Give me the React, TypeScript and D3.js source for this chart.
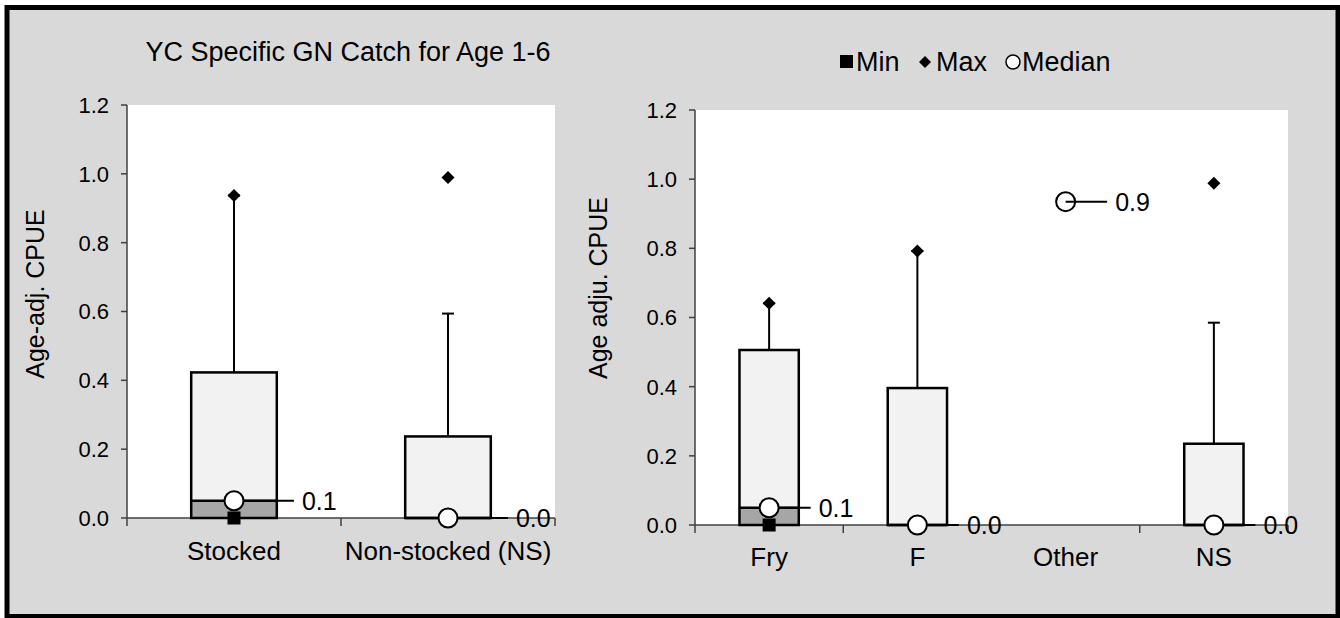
import React from 'react';
import * as d3 from 'd3';

// left panel: stocked vs non-stocked
const leftCats = ['Stocked', 'Non-stocked (NS)'];
const leftMin = [0, 0];
const leftQ1 = [0, 0];
const leftMedian = [0.05, 0];
const leftQ3 = [0.423, 0.237];
const leftWhisker = [0.937, 0.594];
const leftMax = [0.937, 0.989];
const leftLabels = ['0.1', '0.0'];

// right panel: by stocking type
const rightCats = ['Fry', 'F', 'Other', 'NS'];
const rightMin = [0, 0, null, 0];
const rightQ1 = [0, 0, null, 0];
const rightMedian = [0.05, 0, 0.935, 0];
const rightQ3 = [0.506, 0.396, null, 0.235];
const rightWhisker = [0.641, 0.792, null, 0.585];
const rightMax = [0.641, 0.792, null, 0.988];
const rightLabels = ['0.1', '0.0', '0.9', '0.0'];

const yTicks = [0, 0.2, 0.4, 0.6, 0.8, 1.0, 1.2];

const FONT = 'Liberation Sans, Arial, sans-serif';

type PanelProps = {
  x0: number; x1: number; y0: number; y1: number;
  cats: string[]; mins: (number | null)[]; q1: (number | null)[];
  med: (number | null)[]; q3: (number | null)[]; whisk: (number | null)[];
  maxs: (number | null)[]; labels: string[];
  yTitle: string; yTitleX: number; yTitleY: number; catY: number;
};

const diamond = (cx: number, cy: number, r: number) =>
  `M${cx},${cy - r}L${cx + r},${cy}L${cx},${cy + r}L${cx - r},${cy}Z`;

const Panel = (p: PanelProps) => {
  const x = d3.scaleBand().domain(p.cats).range([p.x0, p.x1]).padding(0);
  const y = d3.scaleLinear().domain([0, 1.2]).range([p.y1, p.y0]);
  const bw = x.bandwidth();
  const boxW = bw * 0.4;
  const fmt = d3.format('.1f');
  const axisCol = '#404040';

  return (
    <g>
      <rect x={p.x0} y={p.y0} width={p.x1 - p.x0} height={p.y1 - p.y0} fill="#fff" />
      {/* y axis */}
      <line x1={p.x0} x2={p.x0} y1={p.y0} y2={p.y1} stroke={axisCol} strokeWidth={1.5} />
      {yTicks.map(t => (
        <g key={t}>
          <line x1={p.x0 - 6} x2={p.x0} y1={y(t)} y2={y(t)} stroke={axisCol} strokeWidth={1.5} />
          <text x={p.x0 - 18} y={y(t)} dy="0.36em" textAnchor="end" fontSize={22} fontFamily={FONT}>{fmt(t)}</text>
        </g>
      ))}
      <text transform={`translate(${p.yTitleX},${p.yTitleY}) rotate(-90)`} textAnchor="middle" fontSize={25} fontFamily={FONT}>{p.yTitle}</text>
      {/* x axis */}
      <line x1={p.x0} x2={p.x1} y1={p.y1} y2={p.y1} stroke={axisCol} strokeWidth={1.5} />
      {[...p.cats.map(c => x(c)!), p.x1].map((t, i) => (
        <line key={i} x1={t} x2={t} y1={p.y1} y2={p.y1 + 8} stroke={axisCol} strokeWidth={1.5} />
      ))}
      {p.cats.map(c => (
        <text key={c} x={x(c)! + bw / 2} y={p.catY} textAnchor="middle" fontSize={26} fontFamily={FONT}>{c}</text>
      ))}
      {p.cats.map((c, i) => {
        const cx = x(c)! + bw / 2;
        const hasBox = p.q3[i] != null;
        const m = p.med[i];
        const lineEnd = cx + bw * 0.28;
        return (
          <g key={c}>
            {hasBox && p.whisk[i] != null && (
              <g>
                <line x1={cx} x2={cx} y1={y(p.q3[i]!)} y2={y(p.whisk[i]!)} stroke="#000" strokeWidth={2} />
                <line x1={cx - 6} x2={cx + 6} y1={y(p.whisk[i]!)} y2={y(p.whisk[i]!)} stroke="#000" strokeWidth={2} />
              </g>
            )}
            {hasBox && (
              <g>
                <rect x={cx - boxW / 2} y={y(m!)} width={boxW} height={y(p.q1[i]!) - y(m!)} fill="#a6a6a6" />
                <rect x={cx - boxW / 2} y={y(p.q3[i]!)} width={boxW} height={y(m!) - y(p.q3[i]!)} fill="#f2f2f2" />
                <rect x={cx - boxW / 2} y={y(p.q3[i]!)} width={boxW} height={y(p.q1[i]!) - y(p.q3[i]!)} fill="none" stroke="#000" strokeWidth={2.5} />
                <line x1={cx - boxW / 2} x2={cx + boxW / 2} y1={y(m!)} y2={y(m!)} stroke="#000" strokeWidth={2.5} />
              </g>
            )}
            {p.mins[i] != null && (
              <rect x={cx - 6.5} y={y(p.mins[i]!) - 6.5} width={13} height={13} fill="#000" />
            )}
            {p.maxs[i] != null && (
              <path d={diamond(cx, y(p.maxs[i]!), 6.5)} fill="#000" />
            )}
            {m != null && (
              <g>
                <line x1={cx} x2={lineEnd} y1={y(m)} y2={y(m)} stroke="#000" strokeWidth={2} />
                <circle cx={cx} cy={y(m)} r={9.5} fill={hasBox ? '#fff' : 'none'} stroke="#000" strokeWidth={2} />
                <text x={lineEnd + 8} y={y(m)} dy="0.36em" fontSize={25} fontFamily={FONT}>{p.labels[i]}</text>
              </g>
            )}
          </g>
        );
      })}
    </g>
  );
};

export default function App() {
  return (
    <svg width={1340} height={618} style={{position: 'absolute', left: 0, top: 0}}>
      <rect x={7} y={7.5} width={1331} height={609} fill="#d9d9d9" stroke="#000" strokeWidth={5} />
      <text x={348} y={61} textAnchor="middle" fontSize={27} fontFamily={FONT}>YC Specific GN Catch for Age 1-6</text>
      <Panel x0={127} x1={555} y0={105} y1={518}
        cats={leftCats} mins={leftMin} q1={leftQ1} med={leftMedian} q3={leftQ3}
        whisk={leftWhisker} maxs={leftMax} labels={leftLabels}
        yTitle="Age-adj. CPUE" yTitleX={44} yTitleY={294} catY={560} />
      <Panel x0={695} x1={1288} y0={110} y1={525}
        cats={rightCats} mins={rightMin} q1={rightQ1} med={rightMedian} q3={rightQ3}
        whisk={rightWhisker} maxs={rightMax} labels={rightLabels}
        yTitle="Age adju. CPUE" yTitleX={607} yTitleY={288} catY={566} />
      {/* legend */}
      <g fontFamily={FONT} fontSize={27}>
        <rect x={840} y={55} width={13} height={13} fill="#000" />
        <text x={856} y={71}>Min</text>
        <path d={diamond(925, 62, 6)} fill="#000" />
        <text x={936} y={71}>Max</text>
        <circle cx={1013} cy={62} r={7} fill="#fff" stroke="#000" strokeWidth={1.5} />
        <text x={1022} y={71}>Median</text>
      </g>
    </svg>
  );
}
